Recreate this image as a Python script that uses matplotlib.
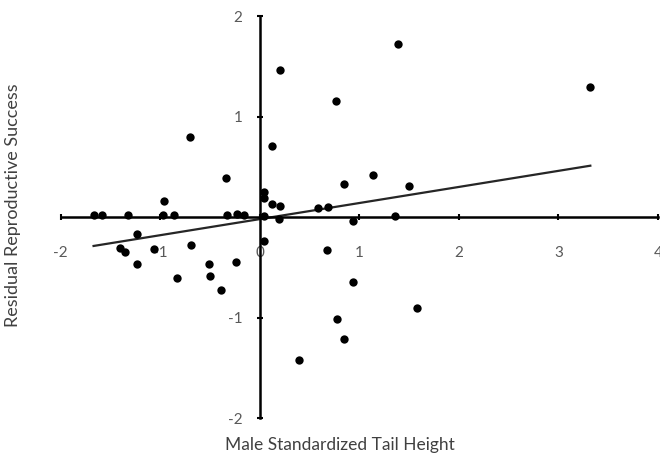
import numpy as np
import matplotlib
matplotlib.use("Agg")
import matplotlib.pyplot as plt

plt.rcParams['font.family'] = ['Lato', 'DejaVu Sans']

# data
tail_height = [-1.67, -1.59, -1.32, -0.97, -0.86, -0.33, -0.23, -0.16,
               -0.70, -0.34, -0.96, -1.23, -1.40, -1.35, -1.06, -0.69,
               -1.23, -0.83, -0.51, -0.50, -0.39, -0.24,
               0.04, 0.04, 0.04, 0.04, 0.12, 1.39, 0.20, 0.77, 1.14, 0.85,
               1.50, 0.12, 0.20, 0.58, 0.68, 1.36, 0.94, 0.19, 0.67, 0.94,
               1.58, 0.78, 0.85, 0.39, 3.32]
repro_success = [0.02, 0.02, 0.02, 0.02, 0.02, 0.02, 0.03, 0.02,
                 0.80, 0.385, 0.16, -0.17, -0.31, -0.345, -0.315, -0.28,
                 -0.47, -0.61, -0.47, -0.59, -0.73, -0.45,
                 0.25, 0.19, -0.24, 0.01, 0.71, 1.72, 1.46, 1.15, 0.415, 0.325,
                 0.31, 0.13, 0.11, 0.09, 0.10, 0.01, -0.04, -0.02, -0.33, -0.65,
                 -0.90, -1.01, -1.21, -1.42, 1.29]

# trend line
fit_slope = 0.16
fit_intercept = -0.02

x_ticks = [-2, -1, 0, 1, 2, 3, 4]
y_ticks = [-2, -1, 1, 2]

fig = plt.figure(figsize=(6.6, 4.58), dpi=100)
ax = fig.add_axes([0.092, 0.087, 0.905, 0.878])

ax.scatter(tail_height, repro_success, s=36, color='black', zorder=3, linewidths=0)

xs = np.array([min(tail_height), max(tail_height)])
ax.plot(xs, fit_slope * xs + fit_intercept, color='#262626', lw=1.6, zorder=2)

ax.set_xlim(-2, 4)
ax.set_ylim(-2, 2)

# axes crossing at the origin, Excel style
ax.spines['left'].set_position(('data', 0))
ax.spines['bottom'].set_position(('data', 0))
ax.spines['right'].set_visible(False)
ax.spines['top'].set_visible(False)
for sp in ('left', 'bottom'):
    ax.spines[sp].set_linewidth(1.8)
    ax.spines[sp].set_color('black')

ax.set_xticks(x_ticks)
ax.set_yticks(y_ticks)
ax.set_xticklabels([str(t) for t in x_ticks])
ax.set_yticklabels([str(t) for t in y_ticks])
ax.tick_params(axis='x', direction='inout', length=5, width=1.5, pad=18,
               labelsize=11, labelcolor='#595959')
ax.tick_params(axis='y', direction='inout', length=5, width=1.5, pad=10,
               labelsize=11, labelcolor='#595959')

fig.text(0.515, 0.012, 'Male Standardized Tail Height', ha='center', va='bottom',
         fontsize=12.5, color='#404040')
fig.text(0.008, 0.552, 'Residual Reproductive Success', ha='left', va='center',
         rotation=90, fontsize=13, color='#404040')

fig.savefig('out.png', dpi=100)
